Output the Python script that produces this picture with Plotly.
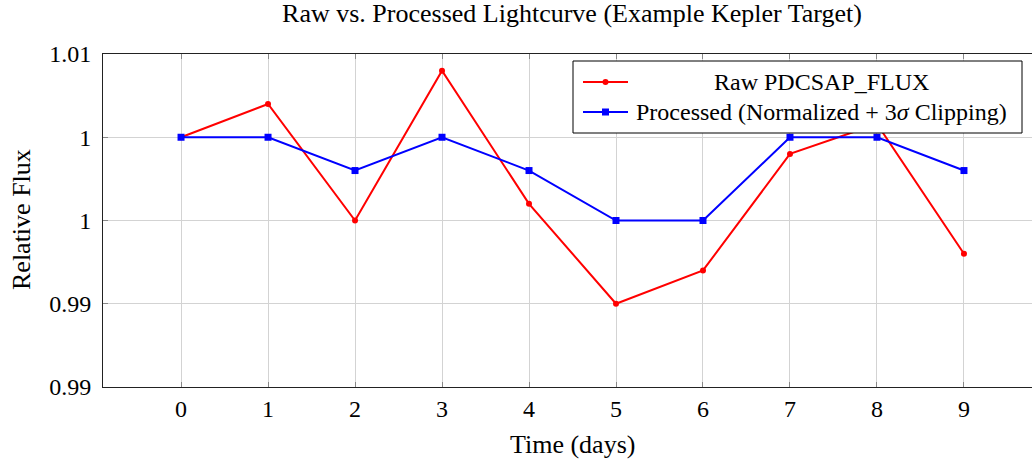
import plotly.graph_objects as go

time_days = [0, 1, 2, 3, 4, 5, 6, 7, 8, 9]
raw_flux = [1.000, 1.002, 0.995, 1.004, 0.996, 0.990, 0.992, 0.999, 1.0008, 0.993]
processed_flux = [1.000, 1.000, 0.998, 1.000, 0.998, 0.995, 0.995, 1.000, 1.000, 0.998]
y_tick_vals = [0.985, 0.990, 0.995, 1.000, 1.005]
y_tick_text = ["0.99", "0.99", "1", "1", "1.01"]
x_tick_vals = [0, 1, 2, 3, 4, 5, 6, 7, 8, 9]
series_names = ["Raw PDCSAP_FLUX", "Processed (Normalized + 3<i>σ</i> Clipping)"]

FONT = "Liberation Serif, Times New Roman, serif"

W, H = 1032, 464
ML, MT, MB, MR = 103, 54, 77, 0
PW, PH = W - ML - MR, H - MT - MB


def px(xp):
    return (xp - ML) / PW


def py(yp):
    return 1 - (yp - MT) / PH


fig = go.Figure()
fig.add_trace(go.Scatter(
    x=time_days, y=raw_flux, mode="lines+markers", name=series_names[0],
    line=dict(color="#ff0000", width=2),
    marker=dict(symbol="circle", size=6, color="#ff0000"),
))
fig.add_trace(go.Scatter(
    x=time_days, y=processed_flux, mode="lines+markers", name=series_names[1],
    line=dict(color="#0000ff", width=2),
    marker=dict(symbol="square", size=7, color="#0000ff"),
))

# manual legend (pgfplots style, centered text)
shapes = [dict(type="rect", xref="paper", yref="paper",
               x0=px(573), x1=px(1022), y0=py(133), y1=py(61),
               line=dict(color="black", width=1), fillcolor="white", layer="above")]
annotations = []
leg_rows = [(82, "#ff0000", "circle"), (112, "#0000ff", "square")]
for (yrow, col, sym), name in zip(leg_rows, series_names):
    shapes.append(dict(type="line", xref="paper", yref="paper",
                       x0=px(583), x1=px(628), y0=py(yrow), y1=py(yrow),
                       line=dict(color=col, width=2), layer="above"))
    if sym == "circle":
        shapes.append(dict(type="circle", xref="paper", yref="paper",
                           x0=px(602.5), x1=px(608.5), y0=py(yrow + 3), y1=py(yrow - 3),
                           line=dict(color=col, width=0), fillcolor=col, layer="above"))
    else:
        shapes.append(dict(type="rect", xref="paper", yref="paper",
                           x0=px(602), x1=px(609), y0=py(yrow + 3.5), y1=py(yrow - 3.5),
                           line=dict(color=col, width=0), fillcolor=col, layer="above"))
    annotations.append(dict(text=name, xref="paper", yref="paper",
                            x=px(821), y=py(yrow), xanchor="center", yanchor="middle",
                            showarrow=False, font=dict(family=FONT, size=24, color="black")))

# axis titles
annotations.append(dict(text="Time (days)", xref="paper", yref="paper",
                        x=px(572), y=py(444), xanchor="center", yanchor="middle",
                        showarrow=False, font=dict(family=FONT, size=26, color="black")))
annotations.append(dict(text="Relative Flux", xref="paper", yref="paper",
                        x=px(21), y=py(220), xanchor="center", yanchor="middle",
                        textangle=-90,
                        showarrow=False, font=dict(family=FONT, size=26, color="black")))

fig.update_layout(
    width=W, height=H,
    margin=dict(l=ML, r=MR, t=MT, b=MB, pad=0),
    paper_bgcolor="white", plot_bgcolor="white",
    font=dict(family=FONT, size=24, color="black"),
    title=dict(text="Raw vs. Processed Lightcurve (Example Kepler Target)",
               x=572 / W, xref="container", xanchor="center",
               y=1 - 13 / H, yref="container", yanchor="middle",
               font=dict(family=FONT, size=26, color="black")),
    showlegend=False,
    shapes=shapes,
    annotations=annotations,
    xaxis=dict(range=[-0.897, 9.782], tickvals=x_tick_vals,
               ticks="inside", ticklen=5, tickcolor="#888888",
               showgrid=True, gridcolor="#d3d3d3", gridwidth=1,
               showline=True, linecolor="#222222", linewidth=1, mirror="ticks",
               zeroline=False, tickfont=dict(family=FONT, size=24)),
    yaxis=dict(range=[0.985, 1.005], tickvals=y_tick_vals, ticktext=y_tick_text,
               ticks="inside", ticklen=5, tickcolor="#888888",
               showgrid=True, gridcolor="#d3d3d3", gridwidth=1,
               showline=True, linecolor="#222222", linewidth=1, mirror=False,
               zeroline=False, ticklabelstandoff=6,
               tickfont=dict(family=FONT, size=24)),
)

fig.write_html("out.html",
               config={"displayModeBar": False},
               post_script="document.body.style.margin='0';document.body.style.overflow='hidden';")
